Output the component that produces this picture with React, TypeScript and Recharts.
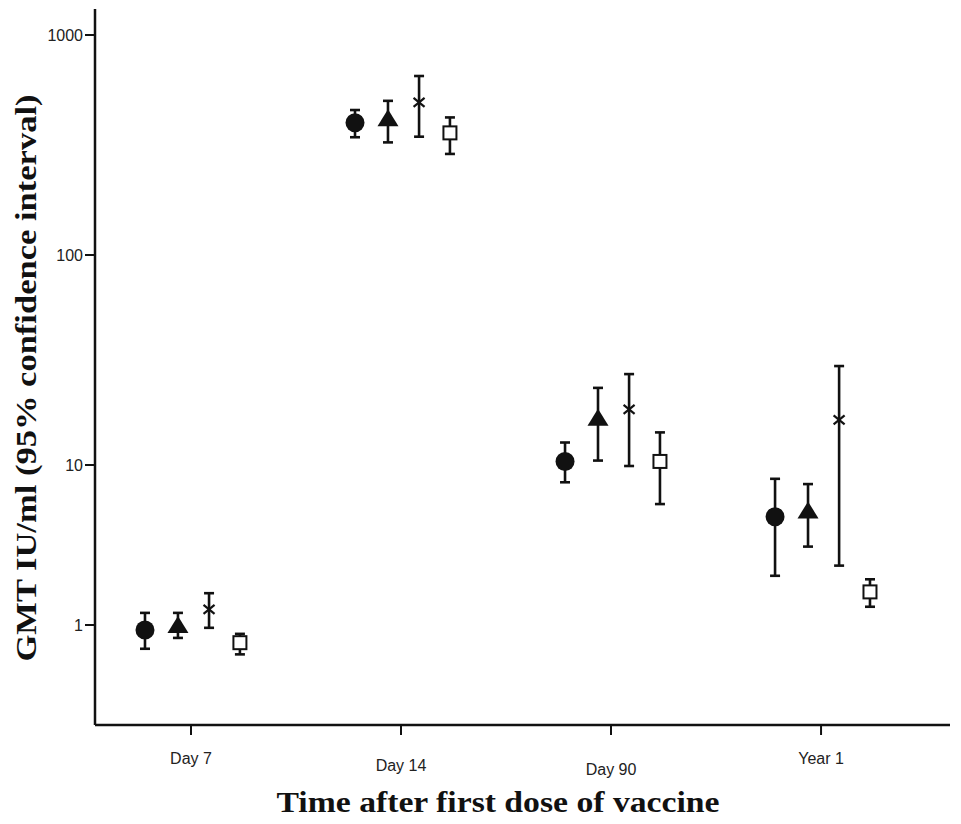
import React from 'react';
import { ScatterChart, Scatter, XAxis, YAxis, ErrorBar } from 'recharts';

const CATEGORIES = ['Day 7', 'Day 14', 'Day 90', 'Year 1'];
const Y_TICKS = [1, 10, 100, 1000];

// GMT with lower / upper 95% CI, one value per time point
const CIRCLE_GMT = [0.93, 399, 10.4, 4.75];
const CIRCLE_LOW = [0.71, 343, 7.8, 2.03];
const CIRCLE_HIGH = [1.19, 456, 12.8, 8.2];

const TRIANGLE_GMT = [1.0, 418, 16.8, 5.2];
const TRIANGLE_LOW = [0.83, 325, 10.5, 3.09];
const TRIANGLE_HIGH = [1.19, 502, 23.3, 7.6];

const CROSS_GMT = [1.25, 494, 18.4, 16.4];
const CROSS_LOW = [0.96, 345, 9.86, 2.35];
const CROSS_HIGH = [1.58, 651, 27.1, 29.6];

const SQUARE_GMT = [0.775, 359, 10.4, 1.61];
const SQUARE_LOW = [0.655, 288, 5.7, 1.3];
const SQUARE_HIGH = [0.88, 422, 14.3, 1.93];

const INK = '#111';

// the printed axis doesn't give every decade the same height,
// so the scale follows the tick marks: [log10 value, fraction from bottom]
const DECADE_STOPS: [number, number][] = [
  [0, 0.1397],
  [1, 0.3631],
  [2, 0.6564],
  [3, 0.9637],
];

function fracOf(v: number) {
  const lv = Math.log10(v);
  const n = DECADE_STOPS.length;
  let i = 0;
  while (i < n - 2 && lv > DECADE_STOPS[i + 1][0]) i++;
  const [a, fa] = DECADE_STOPS[i];
  const [b, fb] = DECADE_STOPS[i + 1];
  return fa + ((lv - a) * (fb - fa)) / (b - a);
}

function valueOf(f: number) {
  const n = DECADE_STOPS.length;
  let i = 0;
  while (i < n - 2 && f > DECADE_STOPS[i + 1][1]) i++;
  const [a, fa] = DECADE_STOPS[i];
  const [b, fb] = DECADE_STOPS[i + 1];
  return Math.pow(10, a + ((f - fa) * (b - a)) / (fb - fa));
}

function stretchedLog(dom: number[] = [0.237, 1313], rng: number[] = [1, 0]): any {
  const s: any = (v: number) => rng[0] + fracOf(v) * (rng[1] - rng[0]);
  s.domain = (d?: number[]) => (d ? ((dom = d.slice()), s) : dom.slice());
  s.range = (r?: number[]) => (r ? ((rng = r.slice()), s) : rng.slice());
  s.copy = () => stretchedLog(dom.slice(), rng.slice());
  s.ticks = () => Y_TICKS;
  s.invert = (p: number) => valueOf((p - rng[0]) / (rng[1] - rng[0]));
  return s;
}

const build = (gmt: number[], low: number[], high: number[], shift: number) =>
  gmt.map((g, i) => ({ x: i + shift, y: g, err: [g - low[i], high[i] - g] }));

const circleData = build(CIRCLE_GMT, CIRCLE_LOW, CIRCLE_HIGH, -0.219);
const triangleData = build(TRIANGLE_GMT, TRIANGLE_LOW, TRIANGLE_HIGH, -0.062);
const crossData = build(CROSS_GMT, CROSS_LOW, CROSS_HIGH, 0.086);
const squareData = build(SQUARE_GMT, SQUARE_LOW, SQUARE_HIGH, 0.233);

const Dot = ({ cx, cy }: any) => <circle cx={cx} cy={cy} r={9.5} fill={INK} />;
const Tri = ({ cx, cy }: any) => (
  <path d={`M${cx},${cy - 9}L${cx + 10.5},${cy + 8}L${cx - 10.5},${cy + 8}Z`} fill={INK} />
);
const Cross = ({ cx, cy }: any) => (
  <g stroke={INK} strokeWidth={2.2}>
    <line x1={cx - 5.5} y1={cy - 4.5} x2={cx + 5.5} y2={cy + 4.5} />
    <line x1={cx - 5.5} y1={cy + 4.5} x2={cx + 5.5} y2={cy - 4.5} />
  </g>
);
const Box = ({ cx, cy }: any) => (
  <rect x={cx - 6.5} y={cy - 6.5} width={13} height={13} fill="#fff" stroke={INK} strokeWidth={2} />
);

// the category labels sit at slightly different heights in the original
const LABEL_DROP = [27, 34, 38, 27];

const XTick = ({ x, y, payload }: any) => {
  const i = Math.round(payload.value);
  return (
    <text x={x} y={y + LABEL_DROP[i]} textAnchor="middle" fontSize={16} fill="#222"
      fontFamily="'Liberation Sans', Arial, sans-serif">
      {CATEGORIES[i]}
    </text>
  );
};

const serif = "'Liberation Serif', 'Times New Roman', serif";

export default function App() {
  const errProps = { dataKey: 'err', direction: 'y' as const, width: 5, stroke: INK, strokeWidth: 2.6 };
  return (
    <ScatterChart width={944} height={816} margin={{ top: 1, right: 2, bottom: 0, left: 0 }}>
      <XAxis
        type="number"
        dataKey="x"
        domain={[-0.457, 3.614]}
        allowDataOverflow
        ticks={[0, 1, 2, 3]}
        interval={0}
        height={99}
        tickSize={10}
        tick={<XTick />}
        axisLine={{ stroke: INK, strokeWidth: 2.5 }}
        tickLine={{ stroke: INK, strokeWidth: 2 }}
        label={{
          content: ({ viewBox }: any) => (
            <text x={viewBox.x + 403} y={viewBox.y + 87} textAnchor="middle" fontFamily={serif}
              fontWeight="bold" fontSize={30} textLength={443} lengthAdjust="spacingAndGlyphs" fill={INK}>
              Time after first dose of vaccine
            </text>
          ),
        }}
      />
      <YAxis
        type="number"
        dataKey="y"
        scale={stretchedLog()}
        domain={[0.237, 1313]}
        allowDataOverflow
        ticks={Y_TICKS}
        interval={0}
        width={87}
        tickSize={10}
        tick={{ fontSize: 16, fill: '#222', fontFamily: "'Liberation Sans', Arial, sans-serif" }}
        axisLine={{ stroke: INK, strokeWidth: 2.5 }}
        tickLine={{ stroke: INK, strokeWidth: 2 }}
        label={{
          content: ({ viewBox }: any) => {
            const cx = 28;
            const cy = viewBox.y + 369;
            return (
              <text x={cx} y={cy} transform={`rotate(-90 ${cx} ${cy})`} textAnchor="middle"
                fontFamily={serif} fontWeight="bold" fontSize={30} textLength={567}
                lengthAdjust="spacingAndGlyphs" fill={INK}>
                GMT IU/ml (95% confidence interval)
              </text>
            );
          },
        }}
      />
      <Scatter data={circleData} shape={<Dot />} isAnimationActive={false}>
        <ErrorBar {...errProps} />
      </Scatter>
      <Scatter data={triangleData} shape={<Tri />} isAnimationActive={false}>
        <ErrorBar {...errProps} />
      </Scatter>
      <Scatter data={crossData} shape={<Cross />} isAnimationActive={false}>
        <ErrorBar {...errProps} />
      </Scatter>
      <Scatter data={squareData} shape={<Box />} isAnimationActive={false}>
        <ErrorBar {...errProps} />
      </Scatter>
    </ScatterChart>
  );
}
